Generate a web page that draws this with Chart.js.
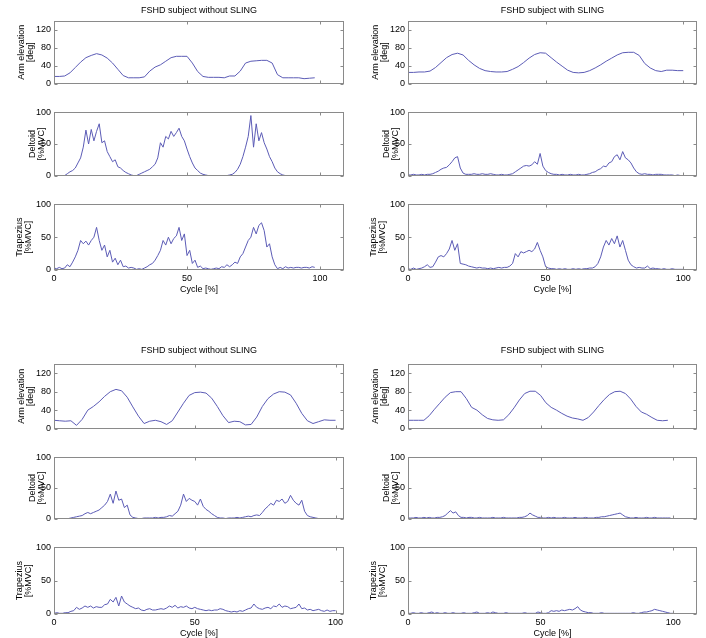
<!DOCTYPE html>
<html>
<head>
<meta charset="utf-8">
<script src="https://cdn.jsdelivr.net/npm/chart.js@4.4.0/dist/chart.umd.min.js"></script>
<style>
  html, body { margin: 0; padding: 0; background: #fff; overflow: hidden; }
  body { position: relative; width: 706px; height: 638px; }
  canvas { position: absolute; }
</style>
</head>
<body>
<script>
// tick labels
var armTicks = [0, 40, 80, 120];
var emgTicks = [0, 50, 100];
var cycleTicks = [0, 50, 100];

// arm elevation [deg], one value every 2 % of the cycle
var armTopNoSling = [16,16,17,24,36,48,58,63,67,64, 57,46,32,18,13,13,13,15,28,37,
  42,50,58,61,61,61,46,27,16,14, 14,14,13,17,17,28,46,50,51,52, 52,46,20,13,13,13,13,11,12,13];
var armTopSling = [25,25,26,26,28,36,47,58,65,68, 64,52,42,34,29,27,26,26,27,32,
  38,47,57,65,69,68,58,48,39,30, 25,24,25,29,35,42,50,57,64,69, 70,70,63,45,35,29,27,30,30,29,29];
var armBotNoSling = [18,17,16,17,7,20,40,48,58,70, 80,85,82,68,47,27,11,16,18,15,
  9,17,36,55,72,78,79,77,66,48, 28,13,16,15,8,9,25,48,65,75, 80,79,73,55,33,17,11,15,19,18,18];
var armBotSling = [18,18,18,18,28,42,55,68,78,80, 80,65,46,40,30,22,19,18,19,30,
  45,62,76,81,81,72,56,46,40,33, 27,23,21,18,24,36,50,63,74,80, 81,76,64,48,36,31,24,18,17,18];

// deltoid EMG [%MVC], one value every 1 % of the cycle
var deltTopNoSling = [0,0,0,0,0,3,6,8,12,20, 28,45,72,50,73,55,70,82,52,55,
  38,30,22,25,14,12,8,5,3,1, 0,0,2,4,6,8,10,14,18,28, 52,45,62,58,70,62,68,75,62,55,
  42,30,20,12,8,4,2,1,0,0, 0,0,0,0,0,0,1,2,5,10, 18,30,45,62,95,45,82,55,68,52,
  42,30,22,12,6,3,1,0,0,0, 0,0,0,0,0,0,0,0,0];
var deltTopSling = [1,1,2,1,1,2,1,2,2,3, 5,7,10,12,13,17,22,28,30,12,
  4,2,2,2,3,2,2,3,2,2, 3,2,1,1,2,1,1,2,3,6, 9,12,15,16,15,17,22,18,35,15,
  8,5,3,2,2,1,2,1,1,2, 1,1,2,1,1,2,3,5,6,9, 11,15,14,20,22,30,33,25,38,28,
  25,20,12,6,3,2,3,2,2,1, 2,2,2,1,1,1,1,0,1,0,0];
var deltBotNoSling = [0,0,0,0,0,0,1,2,3,4, 5,8,10,8,10,12,14,18,22,28,
  40,25,45,30,32,18,22,6,2,1, 0,0,1,1,1,1,2,1,2,2, 3,5,4,8,12,22,40,28,33,30,
  28,22,32,20,15,12,8,5,2,1, 1,0,1,1,1,2,1,2,3,4, 3,5,6,5,10,16,20,25,22,30,
  28,32,25,28,38,30,25,22,30,12, 5,3,2,1,0,0,0,0,0,0];
var deltBotSling = [1,1,1,2,1,1,2,1,2,1, 1,2,2,3,5,9,13,9,11,5,
  2,2,1,2,2,1,1,2,1,1, 1,1,2,1,1,1,2,1,1,1, 1,1,2,2,3,5,9,6,4,2,
  2,1,1,2,1,2,1,1,1,2, 1,1,1,2,1,1,1,2,1,1, 1,2,2,3,3,4,5,6,7,8,
  9,6,3,2,1,1,2,1,1,1, 2,1,1,2,1,1,1,1,1,1];

// trapezius EMG [%MVC], one value every 1 % of the cycle
var trapTopNoSling = [3,2,4,2,3,8,5,12,20,30, 45,40,44,38,45,50,65,45,30,38,
  20,30,12,18,8,15,5,6,3,4, 3,1,2,1,3,5,8,10,15,22, 30,45,38,50,40,48,52,65,45,55,
  22,30,10,15,4,6,2,3,2,1, 2,3,2,5,4,8,5,8,12,10, 20,25,35,45,50,65,55,68,72,60,
  35,40,20,8,2,4,2,5,3,4, 3,4,4,3,4,4,3,5,4];
var trapTopSling = [2,1,3,1,2,3,5,8,4,5, 12,20,22,20,25,32,45,30,40,10,
  9,8,6,5,4,3,4,3,3,2, 3,2,3,4,3,4,4,6,10,25, 20,28,26,28,30,28,32,42,30,20,
  5,3,2,2,1,2,1,2,1,1, 2,1,2,1,2,2,3,3,5,10, 20,35,45,38,48,40,52,35,45,30,
  15,8,5,3,4,3,3,6,2,3, 2,2,1,2,1,1,2,1,1,1,1];
var trapBotNoSling = [1,2,1,1,2,2,4,5,10,7, 9,12,10,12,9,11,10,10,14,15,
  22,18,25,12,27,18,15,12,10,8, 9,6,5,7,8,6,6,7,8,7, 9,12,10,13,9,11,10,12,9,8,
  10,8,7,6,5,6,5,6,6,8, 7,5,4,3,4,3,5,4,6,8, 9,15,10,8,7,9,10,8,12,11,
  15,10,12,11,8,9,10,15,8,9, 6,7,5,6,7,5,4,6,4,5,5];
var trapBotSling = [1,1,2,1,1,2,1,1,2,3, 1,2,1,1,2,1,1,2,1,1,
  1,2,1,1,1,2,3,1,1,1, 2,1,3,2,1,1,1,2,1,1, 1,1,1,1,2,1,1,1,1,3,
  2,1,1,2,5,4,5,4,6,5, 6,7,6,8,11,6,4,3,2,2, 1,1,1,2,1,1,1,1,1,1,
  1,1,1,1,1,2,1,1,2,3, 3,4,5,7,6,5,4,3,2,1,1];

var panelTitles = ['FSHD subject without SLING', 'FSHD subject with SLING'];

var lineColor = 'rgb(92,92,182)';
var boxColor = '#8a8a8a';
Chart.defaults.font.family = '"Liberation Sans", Arial, sans-serif';
Chart.defaults.font.size = 9;
Chart.defaults.color = '#000';

// matlab style box with inward ticks
var boxPlugin = {
  id: 'matlabBox',
  afterDatasetsDraw: function(chart) {
    var a = chart.chartArea, ctx = chart.ctx;
    var xs = chart.scales.x, ys = chart.scales.y;
    var l = Math.round(a.left) + 0.5, r = Math.round(a.right) - 0.5;
    var t = Math.round(a.top) + 0.5, b = Math.round(a.bottom) - 0.5;
    ctx.save();
    ctx.strokeStyle = boxColor;
    ctx.lineWidth = 1;
    ctx.strokeRect(l, t, r - l, b - t);
    ctx.beginPath();
    cycleTicks.forEach(function(v) {
      var px = Math.round(xs.getPixelForValue(v)) + 0.5;
      ctx.moveTo(px, b); ctx.lineTo(px, b - 3);
      ctx.moveTo(px, t); ctx.lineTo(px, t + 3);
    });
    ys.ticks.forEach(function(tk) {
      var py = Math.round(ys.getPixelForValue(tk.value)) + 0.5;
      ctx.moveTo(l, py); ctx.lineTo(l + 3, py);
      ctx.moveTo(r, py); ctx.lineTo(r - 3, py);
    });
    ctx.stroke();
    ctx.restore();
  }
};

function points(values, step) {
  var pts = [];
  for (var i = 0; i < values.length; i++) pts.push({ x: i * step, y: values[i] });
  return pts;
}

var rowsTop = [[21, 86], [112, 178], [204, 270]];
var rowsBot = [[364, 431], [457, 521], [547, 614]];

var panels = [
  { title: panelTitles[0], left: 54, right: 344, rows: rowsTop, xMax: 109, titleGap: 21, titlePad: [5, 5.2],
    arm: armTopNoSling, delt: deltTopNoSling, trap: trapTopNoSling },
  { title: panelTitles[1], left: 408, right: 697, rows: rowsTop, xMax: 105, titleGap: 21, titlePad: [5, 5.2],
    arm: armTopSling, delt: deltTopSling, trap: trapTopSling },
  { title: panelTitles[0], left: 54, right: 344, rows: rowsBot, xMax: 103, titleGap: 24, titlePad: [5.6, 7.6],
    arm: armBotNoSling, delt: deltBotNoSling, trap: trapBotNoSling },
  { title: panelTitles[1], left: 408, right: 697, rows: rowsBot, xMax: 109, titleGap: 24, titlePad: [5.6, 7.6],
    arm: armBotSling, delt: deltBotSling, trap: trapBotSling }
];

function addChart(p, row) {
  var T = p.rows[row][0], B = p.rows[row][1];
  var isArm = row === 0, isTrap = row === 2;
  var top = isArm ? T - p.titleGap : T - 8;
  var bottom = isTrap ? B + 26 : B + 6;
  var cv = document.createElement('canvas');
  cv.width = p.right - p.left + 60;
  cv.height = bottom - top;
  cv.style.left = (p.left - 54) + 'px';
  cv.style.top = top + 'px';
  document.body.appendChild(cv);

  var values = isArm ? p.arm : (row === 1 ? p.delt : p.trap);
  var yLabel = isArm ? ['Arm elevation', '[deg]'] : [row === 1 ? 'Deltoid' : 'Trapezius', '[%MVC]'];
  var yTicks = isArm ? armTicks : emgTicks;
  var yPad = isArm ? 16.8 : (row === 1 ? 27.8 : 14.8);

  new Chart(cv, {
    type: 'line',
    data: {
      datasets: [{
        data: points(values, isArm ? 2 : 1),
        borderColor: lineColor,
        borderWidth: 1,
        pointRadius: 0,
        tension: 0,
        fill: false
      }]
    },
    options: {
      responsive: false,
      animation: false,
      devicePixelRatio: 1,
      events: [],
      layout: { padding: { left: 0, right: 6, top: isArm ? 0 : 8, bottom: isTrap ? 0 : 6 } },
      plugins: {
        legend: { display: false },
        tooltip: { enabled: false },
        title: {
          display: isArm,
          fullSize: false,
          text: p.title,
          color: '#000',
          font: { size: 9, weight: 'normal' },
          padding: { top: p.titlePad[0], bottom: p.titlePad[1] }
        }
      },
      scales: {
        x: {
          type: 'linear',
          min: 0,
          max: p.xMax,
          display: isTrap,
          grid: { display: false, drawTicks: false },
          border: { display: false },
          afterBuildTicks: function(s) { s.ticks = cycleTicks.map(function(v) { return { value: v }; }); },
          ticks: { color: '#000', font: { size: 9 }, padding: 3, maxRotation: 0, autoSkip: false },
          title: { display: true, text: 'Cycle [%]', color: '#000', font: { size: 9 }, padding: { top: 0, bottom: 1 } },
          afterFit: function(s) { s.height = isTrap ? 26 : 0; }
        },
        y: {
          min: 0,
          max: isArm ? 140 : 100,
          grid: { display: false, drawTicks: false },
          border: { display: false },
          afterBuildTicks: function(s) { s.ticks = yTicks.map(function(v) { return { value: v }; }); },
          ticks: { color: '#000', font: { size: 9 }, padding: 3, autoSkip: false },
          title: { display: true, text: yLabel, color: '#000', font: { size: 9, lineHeight: 1.05 }, padding: { top: yPad, bottom: 0 } },
          afterFit: function(s) { s.width = 54; }
        }
      }
    },
    plugins: [boxPlugin]
  });
}

panels.forEach(function(p) {
  for (var r = 0; r < 3; r++) addChart(p, r);
});
</script>
</body>
</html>
